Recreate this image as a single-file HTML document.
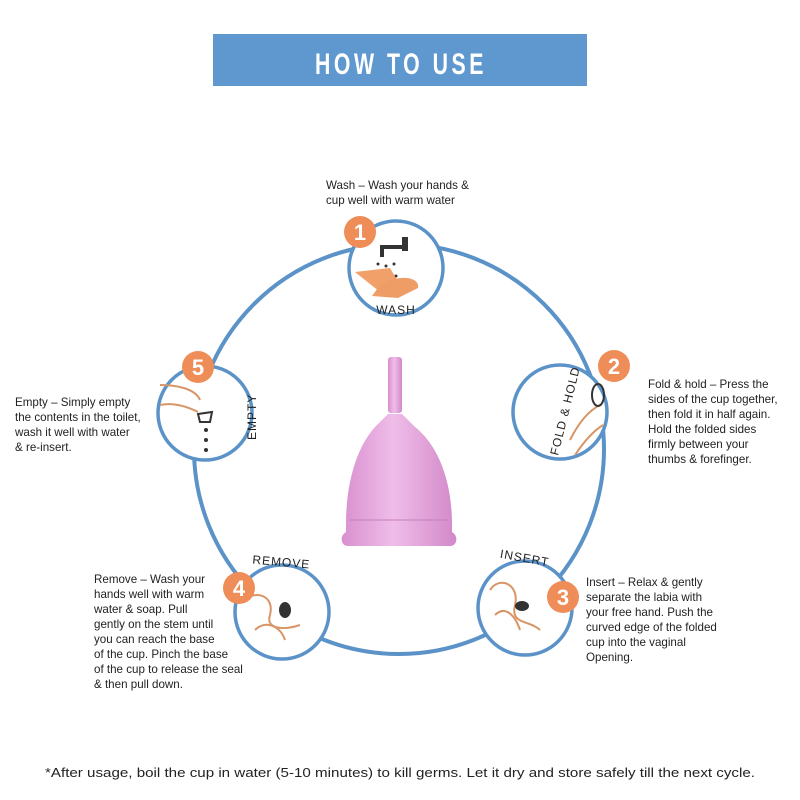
<!DOCTYPE html>
<html><head><meta charset="utf-8"><style>
html,body{margin:0;padding:0;background:#fff;}
svg{display:block}
text{font-family:"Liberation Sans",sans-serif;fill:#222;}
</style></head><body>
<svg width="800" height="800" viewBox="0 0 800 800" xmlns="http://www.w3.org/2000/svg">
<rect x="213" y="34" width="374" height="52" fill="#5f98cf"/>
<text x="315" y="74" font-size="30" font-weight="bold" letter-spacing="5" style="fill:#fff" textLength="172" lengthAdjust="spacingAndGlyphs">HOW TO USE</text>

<circle cx="399" cy="449" r="205" fill="none" stroke="#5b93c9" stroke-width="4"/>

<g fill="#fff" stroke="#5b93c9" stroke-width="3.5">
<circle cx="396" cy="268" r="47"/>
<circle cx="560" cy="412" r="47"/>
<circle cx="525" cy="608" r="47"/>
<circle cx="282" cy="612" r="47"/>
<circle cx="205" cy="413" r="47"/>
</g>

<!-- cup -->
<defs><linearGradient id="cg" x1="0" x2="1"><stop offset="0" stop-color="#d98fcf"/><stop offset="0.45" stop-color="#efbde8"/><stop offset="1" stop-color="#d288c9"/></linearGradient></defs>
<rect x="388" y="357" width="14" height="56" rx="3" fill="url(#cg)"/>
<path d="M376,426 L388,414 L402,414 L414,426 C438,445 452,480 452,525 L452,532 C459,536 457,546 450,546 L348,546 C341,546 339,536 346,532 L346,525 C346,480 358,445 376,426 Z" fill="url(#cg)"/>
<line x1="350" y1="520" x2="448" y2="520" stroke="#c57fbd" stroke-width="1"/>

<!-- icons -->
<path d="M380,245 h22 v-8 h6 v14 h-6 v-2 h-18 v8 h-4z" fill="#333"/>
<g fill="#333"><circle cx="378" cy="264" r="1.5"/><circle cx="386" cy="266" r="1.5"/><circle cx="394" cy="264" r="1.5"/><circle cx="376" cy="276" r="1.5"/><circle cx="386" cy="278" r="1.5"/><circle cx="396" cy="276" r="1.5"/></g>
<path d="M355,272 L390,268 L400,285 L380,292 Z" fill="#f2a06a"/>
<path d="M380,285 C395,275 420,275 418,288 L398,298 L372,296 Z" fill="#ee9d66"/>
<path d="M570,440 C580,420 590,410 600,405 M575,455 C585,440 595,430 603,425" stroke="#d89566" stroke-width="2" fill="none"/>
<ellipse cx="598" cy="395" rx="6" ry="11" fill="none" stroke="#333" stroke-width="2"/>
<path d="M490,590 C500,575 520,585 515,605 C510,625 530,620 540,630 M495,615 C505,605 515,615 520,630" stroke="#d89566" stroke-width="2" fill="none"/>
<ellipse cx="522" cy="606" rx="7" ry="5" fill="#333"/>
<path d="M245,600 C255,590 275,595 270,615 C265,630 285,630 300,625 M255,630 C265,620 280,625 285,640" stroke="#d89566" stroke-width="2" fill="none"/>
<ellipse cx="285" cy="610" rx="6" ry="8" fill="#333"/>
<path d="M160,385 C175,385 195,388 200,400 M160,405 C175,402 190,408 198,412" stroke="#d89566" stroke-width="2" fill="none"/>
<path d="M198,414 l14,-2 l-2,10 l-10,0z" fill="none" stroke="#333" stroke-width="2"/>
<g fill="#333"><circle cx="206" cy="430" r="2"/><circle cx="206" cy="440" r="2"/><circle cx="206" cy="450" r="2"/></g>

<!-- badges -->
<g fill="#ee8d57">
<circle cx="360" cy="232" r="16"/><circle cx="614" cy="366" r="16"/><circle cx="563" cy="597" r="16"/><circle cx="239" cy="588" r="16"/><circle cx="198" cy="367" r="16"/>
</g>
<g font-size="22" font-weight="bold" text-anchor="middle">
<text x="360" y="240" style="fill:#fff">1</text><text x="614" y="374" style="fill:#fff">2</text><text x="563" y="605" style="fill:#fff">3</text><text x="239" y="596" style="fill:#fff">4</text><text x="198" y="375" style="fill:#fff">5</text>
</g>

<!-- circle labels -->
<text x="396" y="314" font-size="12" text-anchor="middle" letter-spacing="1">WASH</text>
<text x="0" y="0" font-size="12" letter-spacing="1" transform="translate(558,456) rotate(-76)">FOLD &amp; HOLD</text>
<text x="524" y="562" font-size="12" text-anchor="middle" letter-spacing="1" transform="rotate(10 524 562)">INSERT</text>
<text x="281" y="566" font-size="12" text-anchor="middle" letter-spacing="1" transform="rotate(5 281 566)">REMOVE</text>
<text x="0" y="0" font-size="12" letter-spacing="1" transform="translate(256,440) rotate(-90)">EMPTY</text>

<!-- descriptions -->
<g font-size="11.6">
<text x="326" y="189">Wash – Wash your hands &amp;</text>
<text x="326" y="204">cup well with warm water</text>
<text x="648" y="388">Fold &amp; hold – Press the</text>
<text x="648" y="403">sides of the cup together,</text>
<text x="648" y="418">then fold it in half again.</text>
<text x="648" y="433">Hold the folded sides</text>
<text x="648" y="448">firmly between your</text>
<text x="648" y="463">thumbs &amp; forefinger.</text>
<text x="586" y="586">Insert – Relax &amp; gently</text>
<text x="586" y="601">separate the labia with</text>
<text x="586" y="616">your free hand. Push the</text>
<text x="586" y="631">curved edge of the folded</text>
<text x="586" y="646">cup into the vaginal</text>
<text x="586" y="661">Opening.</text>
<text x="94" y="583">Remove – Wash your</text>
<text x="94" y="598">hands well with warm</text>
<text x="94" y="613">water &amp; soap. Pull</text>
<text x="94" y="628">gently on the stem until</text>
<text x="94" y="643">you can reach the base</text>
<text x="94" y="658">of the cup. Pinch the base</text>
<text x="94" y="673">of the cup to release the seal</text>
<text x="94" y="688">&amp; then pull down.</text>
<text x="15" y="406">Empty – Simply empty</text>
<text x="15" y="421">the contents in the toilet,</text>
<text x="15" y="436">wash it well with water</text>
<text x="15" y="451">&amp; re-insert.</text>
</g>

<text x="45" y="777" font-size="13" textLength="710" lengthAdjust="spacingAndGlyphs">*After usage, boil the cup in water (5-10 minutes) to kill germs. Let it dry and store safely till the next cycle.</text>
</svg>
</body></html>
